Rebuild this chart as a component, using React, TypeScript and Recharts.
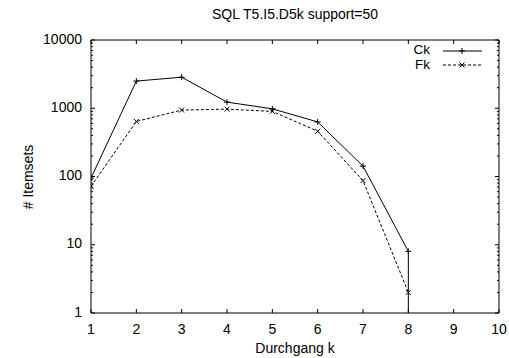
import React from 'react';
import { LineChart, Line, XAxis, YAxis } from 'recharts';

const passes = [1, 2, 3, 4, 5, 6, 7, 8];
const ckValues = [95, 2500, 2850, 1230, 980, 630, 142, 8];
const fkValues = [72, 640, 940, 970, 900, 460, 87, 2];
// gnuplot draws the Ck line down to the bottom after k=8
const ckTail = { k: 8, v: 1 };

const xTicks = [1, 2, 3, 4, 5, 6, 7, 8, 9, 10];
const yMajor = [1, 10, 100, 1000, 10000];
const yMinor = [2, 3, 4, 5, 6, 7, 8, 9];
const yTicks = [
  ...yMajor,
  ...yMajor.slice(0, 4).flatMap((d) => yMinor.map((m) => m * d)),
].sort((a, b) => a - b);

const ckData = [...passes.map((k, i) => ({ k, v: ckValues[i] })), { ...ckTail, tail: true }];
const fkData = passes.map((k, i) => ({ k, v: fkValues[i] }));

const FONT = '"Liberation Sans", Arial, sans-serif';
const FS = 14;
const isMajor = (v: number) => yMajor.includes(v);

const BottomTick = (props: any) => {
  const { x, y, payload } = props;
  return (
    <g>
      <line x1={x} y1={y} x2={x} y2={y - 4} stroke="#000" />
      <text x={x} y={y + 17} textAnchor="middle" dominantBaseline="middle" fontSize={FS} fontFamily={FONT} fill="#000">
        {payload.value}
      </text>
    </g>
  );
};

const TopTick = (props: any) => {
  const { x, y } = props;
  return <line x1={x} y1={y} x2={x} y2={y + 4} stroke="#000" />;
};

const LeftTick = (props: any) => {
  const { x, y, payload } = props;
  const major = isMajor(payload.value);
  return (
    <g>
      <line x1={x} y1={y} x2={x + (major ? 4 : 2)} y2={y} stroke="#000" />
      {major && (
        <text x={x - 9} y={y} textAnchor="end" dominantBaseline="middle" fontSize={FS} fontFamily={FONT} fill="#000">
          {payload.value}
        </text>
      )}
    </g>
  );
};

const RightTick = (props: any) => {
  const { x, y, payload } = props;
  const major = isMajor(payload.value);
  return <line x1={x} y1={y} x2={x - (major ? 4 : 2)} y2={y} stroke="#000" />;
};

const PlusDot = (props: any) => {
  const { cx, cy, payload } = props;
  if (payload && payload.tail) return <g />;
  return (
    <g stroke="#000" strokeWidth={1}>
      <line x1={cx - 3} y1={cy} x2={cx + 3} y2={cy} />
      <line x1={cx} y1={cy - 3} x2={cx} y2={cy + 3} />
    </g>
  );
};

const CrossDot = (props: any) => {
  const { cx, cy } = props;
  return (
    <g stroke="#000" strokeWidth={1}>
      <line x1={cx - 2.5} y1={cy - 2.5} x2={cx + 2.5} y2={cy + 2.5} />
      <line x1={cx - 2.5} y1={cy + 2.5} x2={cx + 2.5} y2={cy - 2.5} />
    </g>
  );
};

// gnuplot-style key in the top right corner
const Key = () => (
  <g>
    <text x={430} y={50} textAnchor="end" dominantBaseline="middle" fontSize={13.5} fontFamily={FONT} fill="#000">Ck</text>
    <line x1={443} y1={51} x2={482} y2={51} stroke="#000" />
    <PlusDot cx={462} cy={51} />
    <text x={430} y={65} textAnchor="end" dominantBaseline="middle" fontSize={13.5} fontFamily={FONT} fill="#000">Fk</text>
    <line x1={443} y1={65} x2={482} y2={65} stroke="#000" strokeDasharray="3 2" />
    <CrossDot cx={462} cy={65} />
  </g>
);

export default function App() {
  return (
    <div style={{ position: 'absolute', left: 0, top: 0, width: 509, height: 358, background: '#fff' }}>
      <LineChart width={509} height={358} margin={{ top: 39, right: 9, left: 0, bottom: 0 }}>
        <text x={295} y={15} textAnchor="middle" dominantBaseline="middle" fontSize={FS} fontFamily={FONT} fill="#000">
          SQL T5.I5.D5k support=50
        </text>
        <text x={29} y={177} textAnchor="middle" dominantBaseline="middle" fontSize={FS} fontFamily={FONT} fill="#000" transform="rotate(-90 29 177)">
          # Itemsets
        </text>
        <text x={295} y={349} textAnchor="middle" dominantBaseline="middle" fontSize={FS} fontFamily={FONT} fill="#000">
          Durchgang k
        </text>
        <Key />
        <XAxis
          xAxisId="b"
          dataKey="k"
          type="number"
          domain={[1, 10]}
          ticks={xTicks}
          interval={0}
          height={45}
          tickSize={0}
          tickMargin={0}
          tickLine={false}
          axisLine={{ stroke: '#000' }}
          tick={<BottomTick />}
          allowDataOverflow
        />
        <XAxis
          xAxisId="t"
          orientation="top"
          dataKey="k"
          type="number"
          domain={[1, 10]}
          ticks={xTicks}
          interval={0}
          height={1}
          tickSize={0}
          tickMargin={0}
          tickLine={false}
          axisLine={{ stroke: '#000' }}
          tick={<TopTick />}
          allowDataOverflow
        />
        <YAxis
          yAxisId="l"
          dataKey="v"
          scale="log"
          domain={[1, 10000]}
          ticks={yTicks}
          interval={0}
          width={91}
          tickSize={0}
          tickMargin={0}
          tickLine={false}
          axisLine={{ stroke: '#000' }}
          tick={<LeftTick />}
          allowDataOverflow
        />
        <YAxis
          yAxisId="r"
          orientation="right"
          dataKey="v"
          scale="log"
          domain={[1, 10000]}
          ticks={yTicks}
          interval={0}
          width={1}
          tickSize={0}
          tickMargin={0}
          tickLine={false}
          axisLine={{ stroke: '#000' }}
          tick={<RightTick />}
          allowDataOverflow
        />
        <Line
          xAxisId="t"
          yAxisId="r"
          data={ckData}
          dataKey="v"
          stroke="none"
          dot={false}
          activeDot={false}
          legendType="none"
          isAnimationActive={false}
        />
        <Line
          xAxisId="b"
          yAxisId="l"
          data={ckData}
          dataKey="v"
          name="Ck"
          type="linear"
          stroke="#000"
          strokeWidth={1}
          dot={<PlusDot />}
          activeDot={false}
          isAnimationActive={false}
        />
        <Line
          xAxisId="b"
          yAxisId="l"
          data={fkData}
          dataKey="v"
          name="Fk"
          type="linear"
          stroke="#000"
          strokeWidth={1}
          strokeDasharray="3 2"
          dot={<CrossDot />}
          activeDot={false}
          isAnimationActive={false}
        />
      </LineChart>
    </div>
  );
}
